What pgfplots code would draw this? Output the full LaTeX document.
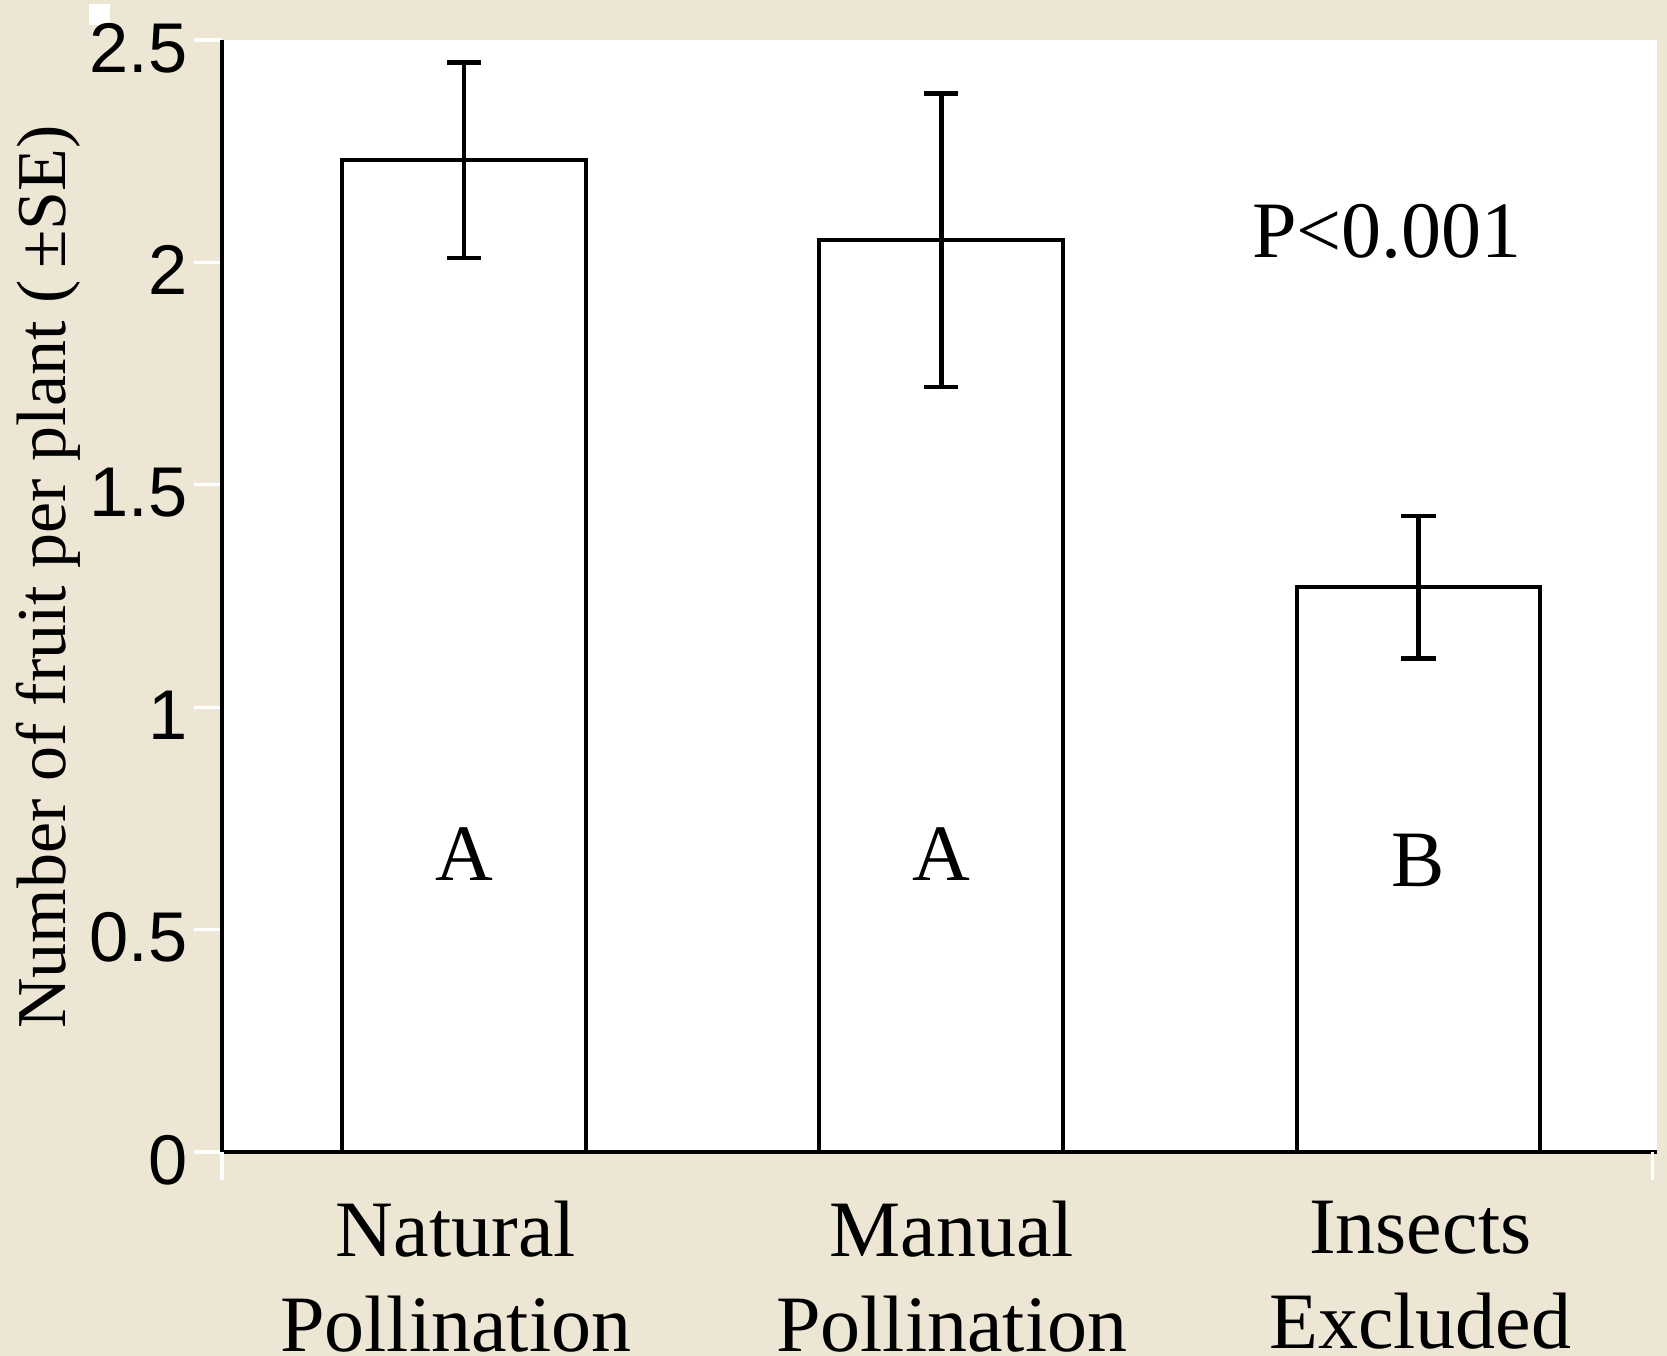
\documentclass[border=0pt]{standalone}
\usepackage{fontspec}
\setmainfont{Liberation Serif}
\setsansfont{Liberation Sans}
\usepackage{pgfplots}
\pgfplotsset{compat=1.18}
\definecolor{beige}{RGB}{237,230,213}
\begin{document}
\begin{tikzpicture}
\fill[beige] (0,0) rectangle (416.75pt,339pt);
\fill[white] (22.25pt,332.75pt) rectangle (27.5pt,338pt);
\begin{axis}[
  at={(55.5pt,51pt)}, anchor=south west,
  scale only axis, width=358.75pt, height=278pt,
  xmin=-0.507, xmax=2.5, ymin=0, ymax=2.5,
  axis background/.style={fill=white},
  axis x line=bottom, axis y line=left,
  axis line style={-, line width=1.1pt, black},
  tick align=outside, major tick length=7pt,
  ytick={0,0.5,1,1.5,2,2.5},
  ytick style={draw=white, line width=0.8pt},
  /pgf/number format/assume math mode=true,
  yticklabel style={font=\fontsize{17.6}{17.6}\selectfont\sffamily, inner xsep=1.5pt, yshift=-2pt},
  xtick={-0.017,1.022,2.004},
  xticklabels={{Natural\\Pollination},{Manual\\Pollination},{Insects\\Excluded}},
  xtick style={draw=none},
  xticklabel style={font=\fontsize{20}{23.75}\selectfont, align=center, anchor=north, inner sep=0pt, yshift=-5pt},
  extra x ticks={-0.507,2.49},
  extra x tick labels={\mbox{},\mbox{}},
  extra x tick style={xtick style={draw=white, line width=0.8pt}},
  ylabel={Number of fruit per plant (\,±SE)},
  every axis y label/.style={at={(axis description cs:-0.1094,0.517)}, rotate=90, anchor=base, font=\fontsize{17.5}{17.5}\selectfont},
  clip=false,
]
\addplot[ybar, bar width=0.51, fill=white, draw=black, line width=1pt,
  error bars/.cd, y dir=both, y explicit,
  error bar style={line width=1.2pt, black},
  error mark options={rotate=90, mark size=4.3pt, line width=1.2pt, black}]
  coordinates {(0,2.23) +- (0,0.22) (1,2.05) +- (0,0.33) (2,1.27) +- (0,0.16)};
\node[anchor=base, font=\fontsize{20}{20}\selectfont] at (axis cs:0,0.611) {A};
\node[anchor=base, font=\fontsize{20}{20}\selectfont] at (axis cs:1,0.611) {A};
\node[anchor=base, font=\fontsize{20}{20}\selectfont] at (axis cs:2,0.596) {B};
\node[anchor=base west, inner sep=0pt, font=\fontsize{20}{20}\selectfont] at (axis cs:1.65,2.01) {P<0.001};
\end{axis}
\pgfresetboundingbox
\path[use as bounding box] (0,0) rectangle (416.75pt,339pt);
\end{tikzpicture}
\end{document}
